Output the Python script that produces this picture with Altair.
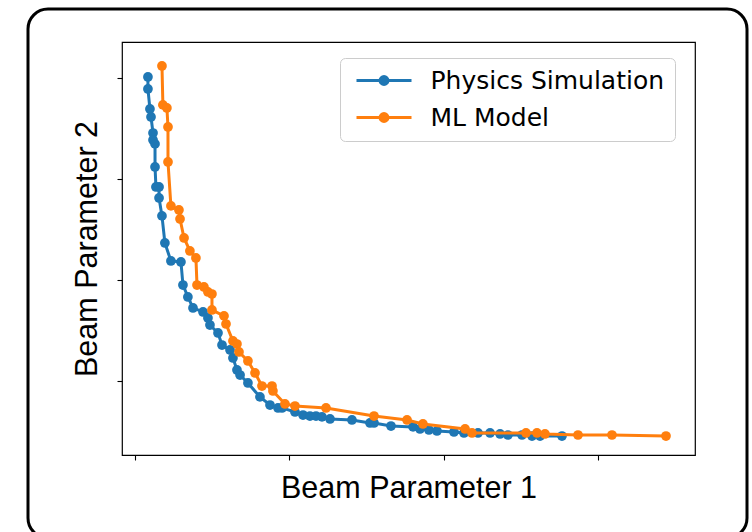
import altair as alt
import pandas as pd

series_names = ["Physics Simulation", "ML Model"]
series_colors = ["#1f77b4", "#ff7f0e"]

physics_x = [0.084, 0.084, 0.097, 0.104, 0.117, 0.117, 0.130, 0.130, 0.136, 0.156,
             0.156, 0.175, 0.194, 0.233, 0.298, 0.311, 0.343, 0.376, 0.441, 0.473,
             0.486, 0.538, 0.564, 0.616, 0.635, 0.661, 0.681, 0.732, 0.810, 0.875,
             0.927, 0.953, 1.037, 1.089, 1.134, 1.173, 1.212, 1.264, 1.406, 1.523,
             1.549, 1.659, 1.802, 1.847, 1.905, 1.957, 2.067, 2.132, 2.223, 2.301,
             2.366, 2.417, 2.508, 2.573, 2.625, 2.767]
physics_y = [4.010, 3.891, 3.693, 3.614, 3.455, 3.386, 3.347, 3.119, 2.921, 2.921,
             2.812, 2.634, 2.366, 2.188, 2.178, 1.950, 1.832, 1.723, 1.683, 1.624,
             1.554, 1.475, 1.356, 1.307, 1.228, 1.109, 1.059, 0.980, 0.842, 0.762,
             0.733, 0.733, 0.693, 0.663, 0.653, 0.653, 0.644, 0.624, 0.614, 0.584,
             0.584, 0.554, 0.545, 0.525, 0.515, 0.505, 0.495, 0.485, 0.485, 0.485,
             0.475, 0.465, 0.465, 0.455, 0.455, 0.455]

ml_x = [0.175, 0.181, 0.207, 0.214, 0.214, 0.233, 0.285, 0.292, 0.318, 0.356,
        0.395, 0.402, 0.447, 0.473, 0.499, 0.499, 0.577, 0.590, 0.635, 0.661,
        0.674, 0.732, 0.778, 0.823, 0.888, 0.894, 0.972, 1.037, 1.238, 1.549,
        1.763, 1.866, 2.139, 2.184, 2.534, 2.605, 2.657, 2.871, 3.091, 3.441]
ml_y = [4.119, 3.733, 3.703, 3.515, 3.168, 2.733, 2.693, 2.604, 2.416, 2.287,
        2.218, 1.950, 1.931, 1.881, 1.861, 1.703, 1.644, 1.564, 1.396, 1.366,
        1.287, 1.198, 1.079, 0.950, 0.950, 0.901, 0.772, 0.752, 0.733, 0.653,
        0.614, 0.574, 0.525, 0.485, 0.485, 0.485, 0.475, 0.465, 0.465, 0.455]

x_ticks = [0, 1, 2, 3]
y_ticks = [1, 2, 3, 4]
x_domain = [-0.084, 3.629]
y_domain = [0.267, 4.356]

rows = []
for i, (xv, yv) in enumerate(zip(physics_x, physics_y)):
    rows.append({"series": series_names[0], "idx": i, "x": xv, "y": yv})
for i, (xv, yv) in enumerate(zip(ml_x, ml_y)):
    rows.append({"series": series_names[1], "idx": i, "x": xv, "y": yv})
df = pd.DataFrame(rows)

legend_path = ("M-2.5,0L2.5,0"
               "M0.36,0A0.36,0.36,0,1,1,-0.36,0A0.36,0.36,0,1,1,0.36,0"
               "M0.22,0A0.22,0.22,0,1,1,-0.22,0A0.22,0.22,0,1,1,0.22,0"
               "M0.08,0A0.08,0.08,0,1,1,-0.08,0A0.08,0.08,0,1,1,0.08,0")

color = alt.Color(
    "series:N",
    scale=alt.Scale(domain=series_names, range=series_colors),
    legend=alt.Legend(
        title=None,
        orient="none",
        legendX=218,
        legendY=16,
        padding=10,
        rowPadding=11,
        fillColor="rgba(255,255,255,0.8)",
        strokeColor="#cccccc",
        cornerRadius=5,
        labelFont="DejaVu Sans",
        labelFontSize=25,
        labelColor="black",
        labelOffset=34,
        labelLimit=0,
        symbolType=legend_path,
        symbolSize=484,
        symbolStrokeWidth=3,
        symbolOffset=21.5,
        symbolOpacity=1,
    ),
)

x_enc = alt.X(
    "x:Q",
    scale=alt.Scale(domain=x_domain, nice=False, zero=False),
    axis=alt.Axis(values=x_ticks, labels=False, domain=False, grid=False,
                  tickSize=5, tickColor="black", tickWidth=1.1,
                  title="Beam Parameter 1", titleFont="Liberation Sans",
                  titleFontSize=30.5, titleFontWeight="normal", titleColor="black",
                  titlePadding=13),
)
y_enc = alt.Y(
    "y:Q",
    scale=alt.Scale(domain=y_domain, nice=False, zero=False),
    axis=alt.Axis(values=y_ticks, labels=False, domain=False, grid=False,
                  tickSize=5, tickColor="black", tickWidth=1.1,
                  title="Beam Parameter 2", titleFont="Liberation Sans",
                  titleFontSize=30.5, titleFontWeight="normal", titleColor="black",
                  titlePadding=14),
)

base = alt.Chart(df)
layers = []
for name in series_names:
    sub = base.transform_filter(alt.datum.series == name)
    layers.append(sub.mark_line(strokeWidth=3).encode(
        x=x_enc, y=y_enc, color=color, order="idx:Q"))
    layers.append(sub.mark_point(filled=True, size=95, opacity=1).encode(
        x=x_enc, y=y_enc, color=color))

frame = alt.Chart(alt.Data(values=[{}])).mark_rect(
    filled=False, stroke="black", strokeWidth=3, cornerRadius=20
).encode(
    x=alt.value(-94), x2=alt.value(625), y=alt.value(-33), y2=alt.value(496)
)

chart = alt.layer(*layers, frame).properties(
    width=573,
    height=413,
    autosize=alt.AutoSizeParams(type="none"),
    padding={"left": 122, "top": 42, "right": 57, "bottom": 77},
    background="white",
).configure_view(stroke="black", strokeWidth=1.2)

chart.save("out.html", embed_options={"renderer": "svg", "actions": False})
